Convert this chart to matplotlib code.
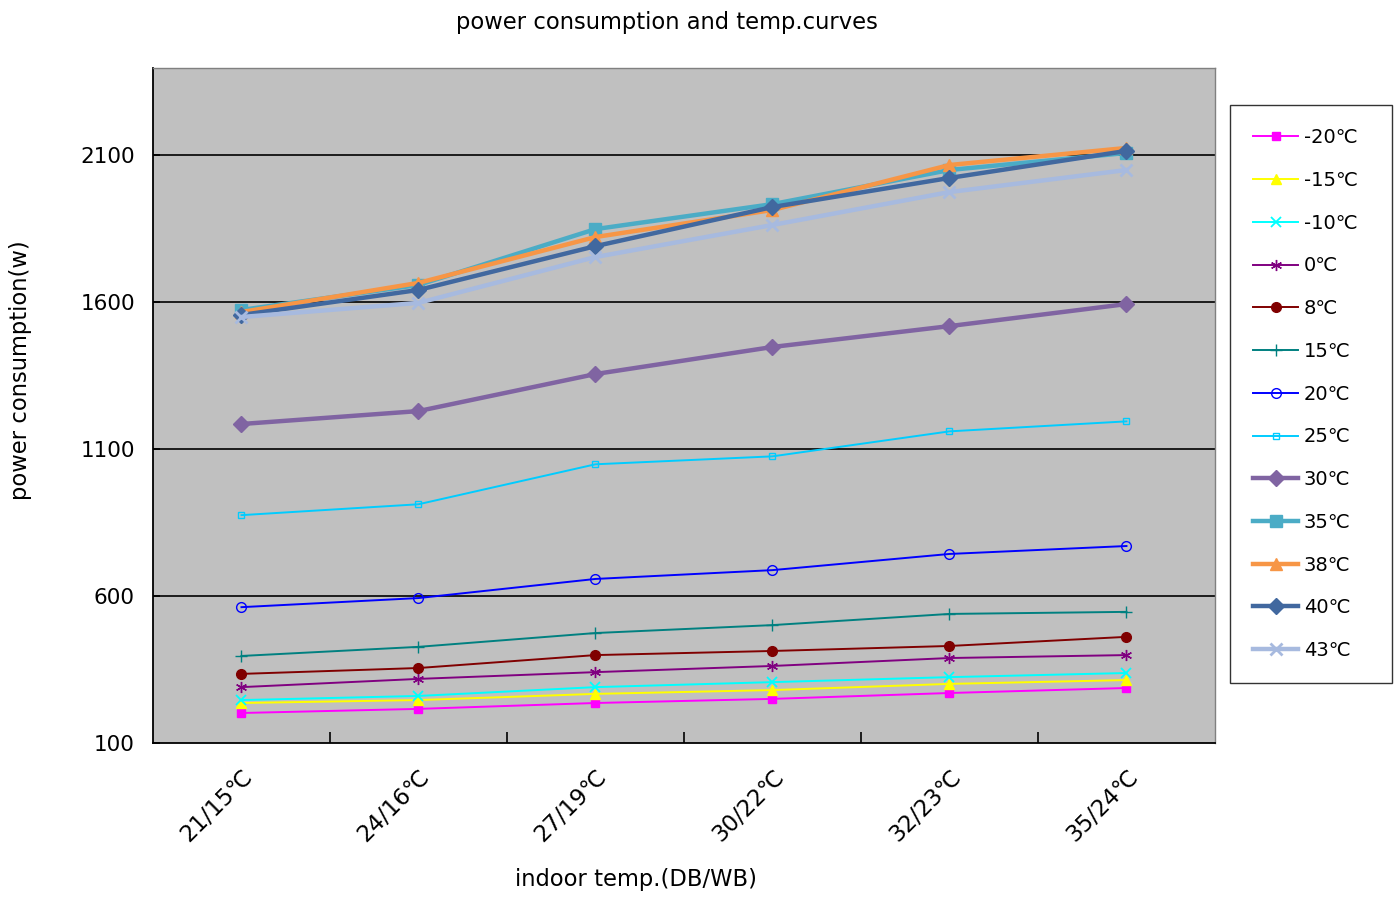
import matplotlib
matplotlib.use("Agg")
import matplotlib.pyplot as plt

plt.rcParams['font.family'] = ['DejaVu Sans']

categories = ["21/15℃", "24/16℃", "27/19℃", "30/22℃", "32/23℃", "35/24℃"]
series_names = ["-20℃", "-15℃", "-10℃", "0℃", "8℃", "15℃", "20℃", "25℃",
                "30℃", "35℃", "38℃", "40℃", "43℃"]

s_m20 = [202, 216, 236, 250, 270, 287]
s_m15 = [236, 246, 267, 280, 301, 314]
s_m10 = [246, 260, 290, 307, 324, 338]
s_0 = [290, 318, 341, 362, 389, 399]
s_8 = [335, 355, 399, 413, 430, 461]
s_15 = [396, 427, 474, 501, 539, 546]
s_20 = [562, 593, 658, 688, 743, 770]
s_25 = [875, 912, 1048, 1075, 1160, 1194]
s_30 = [1185, 1229, 1355, 1447, 1518, 1593]
s_35 = [1573, 1658, 1848, 1933, 2049, 2107]
s_38 = [1566, 1665, 1821, 1913, 2066, 2124]
s_40 = [1556, 1641, 1790, 1923, 2022, 2114]
s_43 = [1549, 1597, 1753, 1862, 1974, 2049]

y_ticks = [100, 600, 1100, 1600, 2100]

data = [s_m20, s_m15, s_m10, s_0, s_8, s_15, s_20, s_25, s_30, s_35, s_38, s_40, s_43]

styles = [
    dict(color='#FF00FF', marker='s', ms=6, lw=1.4, mfc='#FF00FF'),
    dict(color='#FFFF00', marker='^', ms=7, lw=1.4, mfc='#FFFF00'),
    dict(color='#00FFFF', marker='x', ms=7, lw=1.4, mew=1.3),
    dict(color='#800080', marker=(6, 2, 0), ms=8, lw=1.4, mew=1.0),
    dict(color='#800000', marker='o', ms=7, lw=1.4, mfc='#800000'),
    dict(color='#008080', marker='+', ms=8, lw=1.4, mew=1.0),
    dict(color='#0000FF', marker='o', ms=7, lw=1.4, mfc='none', mew=1.0),
    dict(color='#00CCFF', marker='s', ms=4, lw=1.4, mfc='none', mew=1.0),
    dict(color='#8064A2', marker='D', ms=8, lw=3.2, mfc='#8064A2'),
    dict(color='#4BACC6', marker='s', ms=9, lw=3.2, mfc='#4BACC6'),
    dict(color='#F79646', marker='^', ms=9, lw=3.2, mfc='#F79646'),
    dict(color='#41689F', marker='D', ms=8, lw=3.2, mfc='#41689F'),
    dict(color='#A7BADF', marker='x', ms=9, lw=3.2, mew=2.0),
]

fig = plt.figure(figsize=(13.97, 8.97), dpi=100)
ax = fig.add_axes([0.1095, 0.1717, 0.7602, 0.7525])
ax.set_facecolor('#C0C0C0')

x = list(range(len(categories)))
handles = []
for name, vals, st in zip(series_names, data, styles):
    h, = ax.plot(x, vals, label=name, solid_joinstyle='round', **st)
    handles.append(h)

ax.set_xlim(-0.5, len(categories) - 0.5)
ax.set_ylim(100, 2396)
ax.set_yticks(y_ticks)
ax.set_yticklabels([str(v) for v in y_ticks], fontsize=15.5)
for v in y_ticks[1:]:
    ax.axhline(v, color='black', lw=1.2, zorder=0.5)

ax.set_xticks(x)
ax.set_xticklabels(categories, fontsize=16.5, rotation=45, ha='right', rotation_mode='anchor')
ax.set_xticks([i + 0.5 for i in range(len(categories) - 1)], minor=True)
ax.tick_params(axis='x', which='major', length=0, pad=16)
ax.tick_params(axis='x', which='minor', direction='in', length=8, width=1.2, color='black')
ax.tick_params(axis='y', which='major', direction='in', length=5, width=1.2, pad=13)

for side in ['left', 'bottom']:
    ax.spines[side].set_color('black')
    ax.spines[side].set_linewidth(1.3)
for side in ['top', 'right']:
    ax.spines[side].set_color('#808080')
    ax.spines[side].set_linewidth(1.0)

fig.text(0.4775, 0.975, "power consumption and temp.curves", ha='center', va='center', fontsize=16.3)
fig.text(0.455, 0.019, "indoor temp.(DB/WB)", ha='center', va='center', fontsize=16.3)
fig.text(0.015, 0.587, "power consumption(w)", ha='center', va='center', rotation=90, fontsize=16.3)

leg = fig.legend(handles=handles, loc='upper left',
                 bbox_to_anchor=(0.8805, 0.883, 0.1160, 0.0), mode='expand',
                 frameon=True, fancybox=False, edgecolor='black', fontsize=14,
                 labelspacing=1.22, handlelength=2.3, handletextpad=0.3,
                 borderpad=1.2, borderaxespad=0)
leg.get_frame().set_linewidth(1.0)

fig.savefig("out.png", dpi=100, facecolor='white')
